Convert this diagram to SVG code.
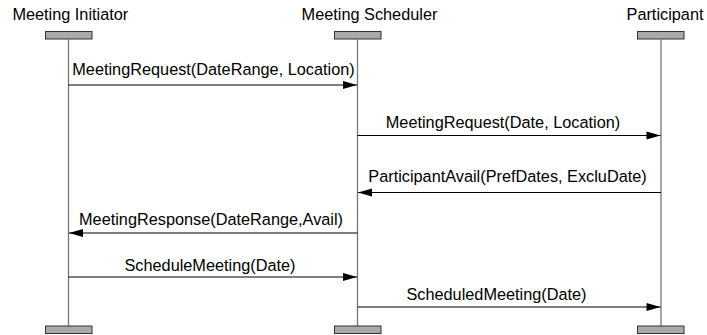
<svg xmlns="http://www.w3.org/2000/svg" width="707" height="335" viewBox="0 0 707 335">
<style>
text{font-family:"Liberation Sans",Arial,Helvetica,sans-serif;font-size:16.3px;fill:#000;text-anchor:middle}
.bar{fill:#aaaaaa;stroke:#333333;stroke-width:1}
.life{stroke:#777777;stroke-width:1.3;fill:none}
.msg{stroke:#000;stroke-width:1;fill:none;marker-end:url(#ah)}
</style>
<defs>
<marker id="ah" markerUnits="userSpaceOnUse" markerWidth="14" markerHeight="8" refX="14" refY="4" orient="auto" overflow="visible">
<path d="M0,0 L14,4 L0,8 z" fill="#000"/>
</marker>
</defs>
<rect width="707" height="335" fill="#fff"/>
<g id="initiator">
<text x="70.3" y="20">Meeting Initiator</text>
<rect class="bar" x="45.5" y="31.5" width="46.5" height="7.5"/>
<line class="life" x1="68.5" y1="39" x2="68.5" y2="326"/>
<rect class="bar" x="45.5" y="326" width="46.5" height="7.5"/>
</g>
<g id="scheduler">
<text x="369.5" y="20">Meeting Scheduler</text>
<rect class="bar" x="334.5" y="31.5" width="46.5" height="7.5"/>
<line class="life" x1="357.5" y1="39" x2="357.5" y2="326"/>
<rect class="bar" x="334.5" y="326" width="46.5" height="7.5"/>
</g>
<g id="participant">
<text x="665" y="20">Participant</text>
<rect class="bar" x="637.5" y="31.5" width="46.5" height="7.5"/>
<line class="life" x1="661" y1="39" x2="661" y2="326"/>
<rect class="bar" x="637.5" y="326" width="46.5" height="7.5"/>
</g>
<g id="connectors">
<line class="msg" x1="68.5" y1="85" x2="357" y2="85"/>
<text x="213.5" y="75">MeetingRequest(DateRange, Location)</text>
<line class="msg" x1="357.5" y1="135.5" x2="660.5" y2="135.5"/>
<text x="503" y="127.5">MeetingRequest(Date, Location)</text>
<line class="msg" x1="661" y1="192.5" x2="358" y2="192.5"/>
<text x="507.5" y="182">ParticipantAvail(PrefDates, ExcluDate)</text>
<line class="msg" x1="357.5" y1="233" x2="69" y2="233"/>
<text x="211" y="224.5">MeetingResponse(DateRange,Avail)</text>
<line class="msg" x1="68.5" y1="277" x2="357" y2="277"/>
<text x="210" y="271">ScheduleMeeting(Date)</text>
<line class="msg" x1="357.5" y1="307" x2="660.5" y2="307"/>
<text x="496.5" y="300">ScheduledMeeting(Date)</text>
</g>
</svg>
